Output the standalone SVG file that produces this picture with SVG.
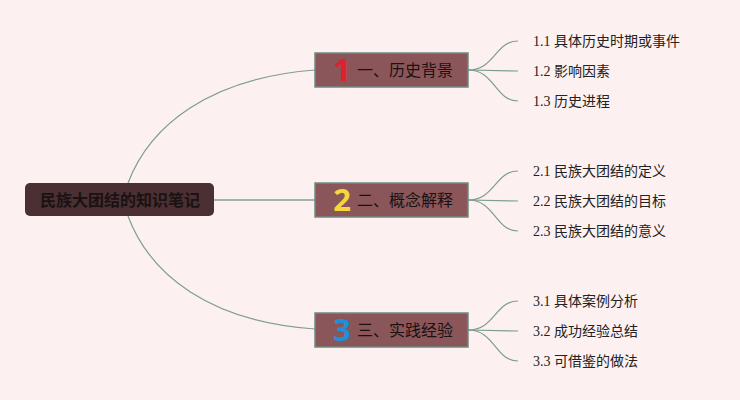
<svg xmlns="http://www.w3.org/2000/svg" width="740" height="400" viewBox="0 0 740 400">
<style>
.bg{fill:#fdf0f0}
.root{fill:#4a2f33}
.rootText{font-family:"Noto Sans CJK SC","Noto Sans",sans-serif;font-size:16px;font-weight:bold;fill:#1a1212}
.branch{fill:#8a5659;stroke:#6f8a7f;stroke-width:1.5}
.btext{font-family:"Noto Sans CJK SC","Noto Sans",sans-serif;font-size:16px;fill:#1a1212}
.num{font-family:"Noto Sans","DejaVu Sans",sans-serif;font-size:31px;font-weight:bold}
.leaf{font-family:"Liberation Serif","Noto Sans CJK SC",serif;font-size:14px;fill:#222}
.conn{fill:none;stroke:#7d9e8e;stroke-width:1.2}
.conn2{fill:none;stroke:#a3b4aa;stroke-width:2}
</style>
<rect class="bg" x="0" y="0" width="740" height="400"/>
<g id="connectors">
<path class="conn" d="M128,183 C150,125 210,78 315,70"/>
<path class="conn2" d="M214,200 L315,200"/>
<path class="conn" d="M128,216 C150,275 210,322 315,329"/>
<path class="conn" d="M468,70 C495,70 495,41 518,41"/>
<path class="conn" d="M468,70 L518,71"/>
<path class="conn" d="M468,70 C495,70 495,101 518,101"/>
<path class="conn" d="M468,200 C495,200 495,171 518,171"/>
<path class="conn" d="M468,200 L518,201"/>
<path class="conn" d="M468,200 C495,200 495,231 518,231"/>
<path class="conn" d="M468,330 C495,330 495,301 518,301"/>
<path class="conn" d="M468,330 L518,331"/>
<path class="conn" d="M468,330 C495,330 495,361 518,361"/>
</g>
<g id="root">
<rect class="root" x="25" y="183" width="189" height="33" rx="5"/>
<text class="rootText" x="120" y="206" text-anchor="middle">民族大团结的知识笔记</text>
</g>
<g id="node1">
<rect class="branch" x="315" y="53" width="153" height="34"/>
<text class="num" x="342" y="81" text-anchor="middle" fill="#e0202e">1</text>
<text class="btext" x="357" y="76">一、历史背景</text>
</g>
<g id="node2">
<rect class="branch" x="315" y="183" width="153" height="34"/>
<text class="num" x="342" y="211" text-anchor="middle" fill="#f5d63d">2</text>
<text class="btext" x="357" y="206">二、概念解释</text>
</g>
<g id="node3">
<rect class="branch" x="315" y="313" width="153" height="34"/>
<text class="num" x="342" y="341" text-anchor="middle" fill="#1e90d8">3</text>
<text class="btext" x="357" y="336">三、实践经验</text>
</g>
<g id="leaf1-1"><text class="leaf" x="533" y="46">1.1 具体历史时期或事件</text></g>
<g id="leaf1-2"><text class="leaf" x="533" y="76">1.2 影响因素</text></g>
<g id="leaf1-3"><text class="leaf" x="533" y="106">1.3 历史进程</text></g>
<g id="leaf2-1"><text class="leaf" x="533" y="176">2.1 民族大团结的定义</text></g>
<g id="leaf2-2"><text class="leaf" x="533" y="206">2.2 民族大团结的目标</text></g>
<g id="leaf2-3"><text class="leaf" x="533" y="236">2.3 民族大团结的意义</text></g>
<g id="leaf3-1"><text class="leaf" x="533" y="306">3.1 具体案例分析</text></g>
<g id="leaf3-2"><text class="leaf" x="533" y="336">3.2 成功经验总结</text></g>
<g id="leaf3-3"><text class="leaf" x="533" y="366">3.3 可借鉴的做法</text></g>
</svg>
